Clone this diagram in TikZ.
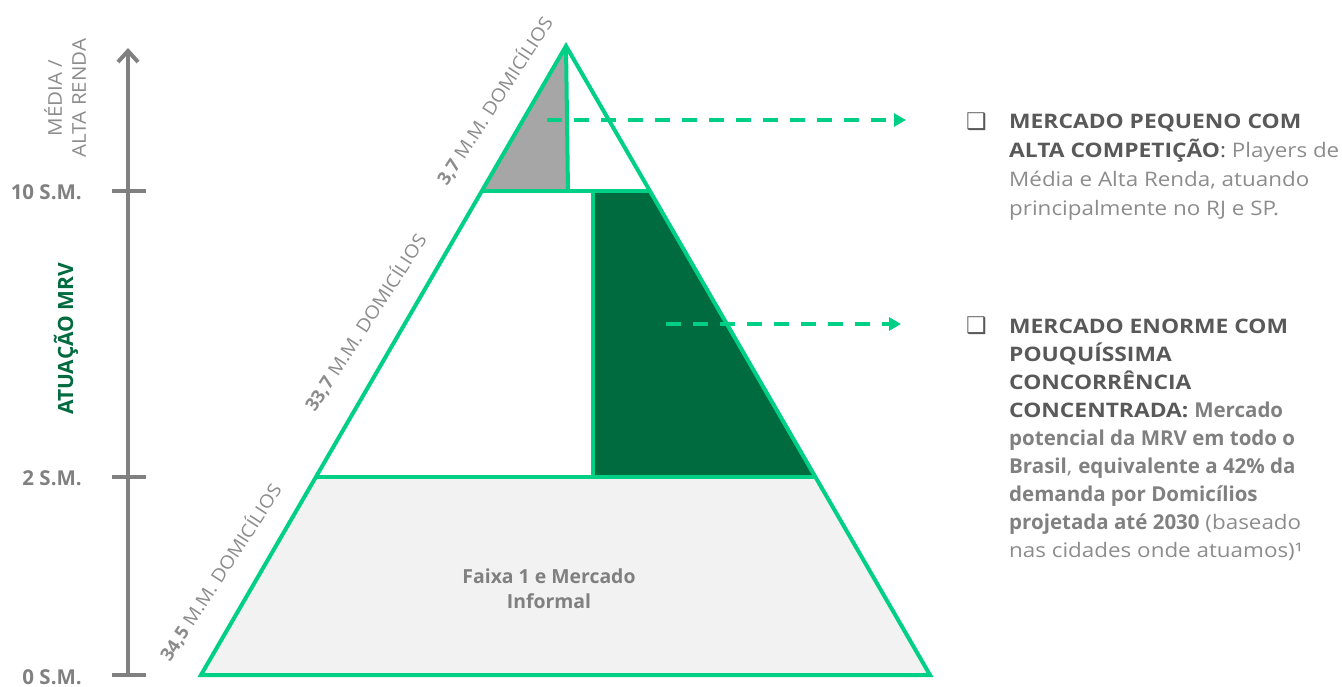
\documentclass[tikz,border=0pt]{standalone}
\usepackage{fontspec}
\setmainfont{Open Sans}
\newfontfamily\dejavu{DejaVu Sans}
\newfontfamily\freg[FakeStretch=1.12]{Open Sans}
\newfontfamily\fcap[FakeStretch=1.14]{Open Sans}
\newfontfamily\fdom[FakeStretch=1.08]{Open Sans}
\usetikzlibrary{arrows.meta}
\definecolor{grn}{RGB}{0,208,134}
\definecolor{dgrn}{RGB}{0,107,63}
\definecolor{midgray}{RGB}{166,166,166}
\definecolor{lightfill}{RGB}{242,242,242}
\definecolor{axgray}{RGB}{128,128,128}
\definecolor{txtd}{RGB}{89,89,89}
\definecolor{txtl}{RGB}{140,140,140}
\definecolor{txtb}{RGB}{128,128,128}
\newcommand{\hd}[1]{\textcolor{txtd}{\fcap\bfseries #1}}
\newcommand{\bb}[1]{\textcolor{txtb}{\rmfamily\bfseries\fontsize{20.5}{24}\selectfont #1}}
\begin{document}
\begin{tikzpicture}[x=1pt,y=-1pt,
  edge/.style={draw=grn,line width=4pt},
  tick/.style={draw=axgray,line width=4pt},
  lvl/.style={anchor=base east,inner sep=0pt,font=\fontsize{20.5}{24}\selectfont\bfseries,text=axgray},
  rt/.style={anchor=base west,inner sep=0pt,font=\freg\fontsize{20}{24}\selectfont,text=txtl},
  dom/.style={anchor=base west,inner sep=0pt,rotate=57,font=\fdom\fontsize{18.3}{20}\selectfont,text=txtl},
  bul/.style={anchor=base west,inner sep=0pt,font=\dejavu\fontsize{23}{24}\selectfont,text=txtd},
  darr/.style={draw=grn,line width=4pt,dash pattern=on 15pt off 12pt,-{Triangle[length=12pt,width=13pt]}}
]
\useasboundingbox (0,0) rectangle (1342,687);
% geometry
\coordinate (apex) at (566,46);
\coordinate (bl) at (201,675);
\coordinate (br) at (930,675);
\coordinate (l10) at (482,191);
\coordinate (r10) at (650,191);
\coordinate (l2) at (316,477);
\coordinate (r2) at (815,477);
\coordinate (v1b) at (568,191);
\coordinate (v2t) at (593,191);
\coordinate (v2b) at (593,477);
% fills
\fill[lightfill] (l2)--(r2)--(br)--(bl)--cycle;
\fill[midgray] (apex)--(l10)--(v1b)--cycle;
\fill[dgrn] (v2t)--(r10)--(r2)--(v2b)--cycle;
% strokes
\draw[edge] (l10)--(r10);
\draw[edge] (l2)--(r2);
\draw[edge] (apex)--(v1b);
\draw[edge] (v2t)--(v2b);
\draw[edge] (apex)--(bl)--(br)--cycle;
% axis
\coordinate (ax0) at (128,677);
\coordinate (axtop) at (128,48);
\draw[draw=axgray,line width=4pt,-{Straight Barb[length=11pt,width=20pt]}] (ax0)--(axtop);
\coordinate (t10a) at (112,191); \coordinate (t10b) at (146,191);
\coordinate (t2a) at (112,477); \coordinate (t2b) at (146,477);
\coordinate (t0a) at (112,675); \coordinate (t0b) at (146,675);
\draw[tick] (t10a)--(t10b);
\draw[tick] (t2a)--(t2b);
\draw[tick] (t0a)--(t0b);
\node[lvl] (s10) at (82,200) {10 S.M.};
\node[lvl] (s2) at (82,485) {2 S.M.};
\node[lvl] (s0) at (82,684) {0 S.M.};
\node[rotate=90,align=center,inner sep=0pt,font=\fdom\fontsize{19}{24}\selectfont,text=txtl] (media) at (65,98) {MÉDIA /\\ALTA RENDA};
\node[rotate=90,inner sep=0pt,font=\fontsize{21}{24}\selectfont\bfseries,text=dgrn] (atua) at (66,339) {ATUAÇÃO MRV};
% domicile labels
\node[dom] (d1) at (447,187) {{\rmfamily\bfseries 3,7} M.M. DOMICÍLIOS};
\node[dom] (d2) at (315,413) {{\rmfamily\bfseries 33,7} M.M. DOMICÍLIOS};
\node[dom] (d3) at (170,663) {{\rmfamily\bfseries 34,5} M.M. DOMICÍLIOS};
% bottom label
\node[anchor=base,inner sep=0pt,font=\fontsize{19.4}{24}\selectfont\bfseries,text=txtb] (f1) at (549,583) {Faixa 1 e Mercado};
\node[anchor=base,inner sep=0pt,font=\fontsize{19.4}{24}\selectfont\bfseries,text=txtb] (f2) at (549,608) {Informal};
% arrows
\coordinate (a1s) at (547,120); \coordinate (a1e) at (906,120);
\coordinate (a2s) at (666,324); \coordinate (a2e) at (901,324);
\draw[darr] (a1s)--(a1e);
\draw[darr] (a2s)--(a2e);
% right text block 1
\node[bul] (b1) at (966,130) {❑};
\node[rt] (p1) at (1009,129) {\hd{MERCADO PEQUENO COM}};
\node[rt] (p2) at (1009,158) {\hd{ALTA COMPETIÇÃO}\textcolor{txtd}{:} Players de};
\node[rt] (p3) at (1009,187) {Média e Alta Renda, atuando};
\node[rt] (p4) at (1009,216) {principalmente no RJ e SP.};
% right text block 2
\node[bul] (b2) at (966,334) {❑};
\node[rt] (q1) at (1009,333) {\hd{MERCADO ENORME COM}};
\node[rt] (q2) at (1009,361) {\hd{POUQUÍSSIMA}};
\node[rt] (q3) at (1009,389) {\hd{CONCORRÊNCIA}};
\node[rt] (q4) at (1009,417) {\hd{CONCENTRADA:} \bb{Mercado}};
\node[rt] (q5) at (1009,445) {\bb{potencial da MRV em todo o}};
\node[rt] (q6) at (1009,473) {\bb{Brasil}, \bb{equivalente a 42\% da}};
\node[rt] (q7) at (1009,501) {\bb{demanda por Domicílios}};
\node[rt] (q8) at (1009,529) {\bb{projetada até 2030} (baseado};
\node[rt] (q9) at (1009,557) {nas cidades onde atuamos)¹};
\end{tikzpicture}
\end{document}
